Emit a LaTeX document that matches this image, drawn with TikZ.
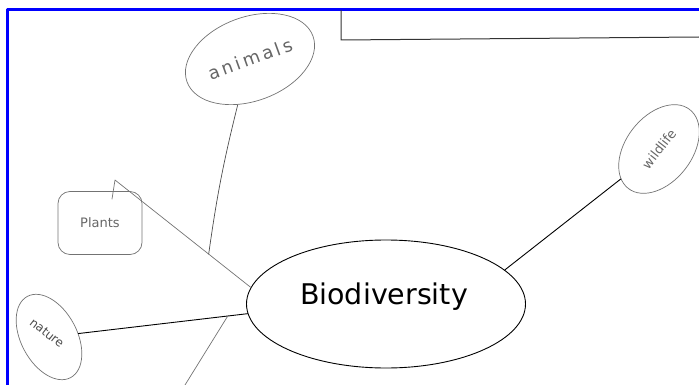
\documentclass[tikz,border=0pt]{standalone}
\usepackage{fontspec}
\setmainfont{DejaVu Sans}
\usetikzlibrary{shapes.geometric,calc}
\definecolor{frameblue}{RGB}{0,0,255}
\begin{document}
\begin{tikzpicture}[x=1pt,y=-1pt,line cap=round,line join=round]
	\tikzset{pencil/.style={draw=black!55,line width=0.7pt,text=black!60},
		ink/.style={draw=black,line width=0.9pt},
		bubble/.style={pencil,ellipse,inner sep=0pt,font=\fontsize{15}{15}\selectfont}}
	\useasboundingbox (0,0) rectangle (699,385);
	% frame and box
	\draw[frameblue,line width=3pt,line cap=butt] (7,385)--(7,9.5)--(699,9.5);
	\draw[black!80,line width=1pt] (341,10.5)--(341,40)--(699,37);
	% centre
	\node[ink,ellipse,minimum width=279,minimum height=128,inner sep=0pt] (bio) at (386,304) {};
	\node (biotext) at (384,297) {\fontsize{28.5}{30}\selectfont Biodiversity};
	% hand drawn bubbles
	\node[bubble,minimum width=134,minimum height=84,rotate=20,
		font=\fontsize{18}{18}\selectfont] (animals) at (250,59) {a\,n\,i\,m\,a\,l\,s};
	\node[pencil,draw,rounded corners=12pt,minimum width=84,minimum height=63,
		font=\fontsize{13}{13}\selectfont] (plants) at (100,223) {Plants};
	\node[bubble,minimum width=92,minimum height=56,rotate=-62] (nature) at (49,337) {};
	\node[text=black!70,rotate=-38,font=\fontsize{12}{12}\selectfont] (naturetext) at (47,333) {nature};
	\node[bubble,minimum width=100,minimum height=66,rotate=52,
		font=\fontsize{13}{13}\selectfont] (wildlife) at (659,149) {wildlife};
	% connectors
	\coordinate (pflag) at (115,180);
	\coordinate (j1) at ($(pflag)!0.69!(bio.173)$);
	\coordinate (j2) at ($(nature.center)!0.9!(bio.184)$);
	\coordinate (cut) at (185,385);
	\draw[pencil] ($(plants.north)+(12,8)$)--(pflag)--(bio.173);
	\draw[pencil,draw=black!70] (animals.235) to[bend right=3] (j1);
	\draw[ink] (nature) -- (bio.184);
	\draw[pencil] (j2)--(cut);
	\draw[ink] (wildlife) -- (bio.16);
\end{tikzpicture}
\end{document}
